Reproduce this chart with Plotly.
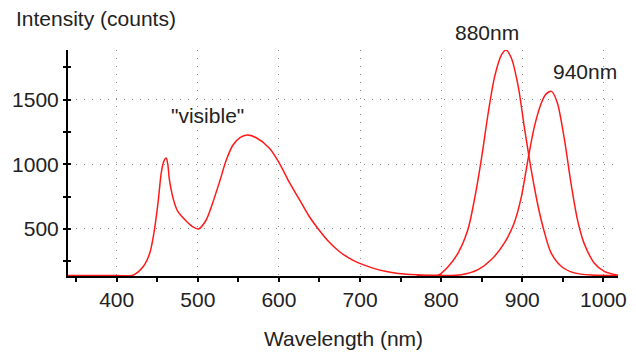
import plotly.graph_objects as go

# Visible (white LED) spectrum
vis_wl = [340, 400, 420, 433, 441, 446, 451, 455, 458, 461, 463, 465, 470, 475, 486, 494, 501,
          510, 518, 527, 535, 543, 552, 561, 572, 588, 600, 612, 625, 637, 649, 661, 674, 686,
          698, 715, 731, 747, 770, 800]
vis_counts = [140, 140, 142, 211, 317, 471, 703, 935, 1020, 1049, 1000, 881, 726, 640, 559, 515, 500,
              565, 695, 868, 1030, 1145, 1205, 1225, 1205, 1126, 1015, 870, 730, 600, 495, 404, 327, 276,
              237, 199, 172, 155, 145, 141]

# 880 nm IR LED
ir880_wl = [770, 796, 809, 821, 833, 841, 849.5, 858, 866, 874.5, 880, 886.5, 895, 903, 911, 919.5,
            927.5, 935.5, 948, 964, 985, 1018]
ir880_counts = [140, 141, 211, 315, 495, 726, 1036, 1396, 1679, 1847, 1883, 1821, 1602, 1267, 958, 675,
                469, 315, 211, 160, 143, 140]

# 940 nm IR LED
ir940_wl = [800, 825, 845.5, 862, 878, 890, 899, 907, 915, 923.5, 929, 936, 943, 952, 960, 968, 976,
            988.6, 1001, 1018]
ir940_counts = [140, 145, 185, 263, 392, 546, 752, 1036, 1293, 1474, 1540, 1563, 1480, 1190, 855, 572, 392,
                237, 172, 142]

x_ticks = [400, 500, 600, 700, 800, 900, 1000]
y_ticks = [500, 1000, 1500]
x_range = [340, 1018]
y_range = [136, 1883]

FONT = "Arial, 'Liberation Sans', sans-serif"
TXT = "#222222"
RED = "#ff1a1a"

fig = go.Figure()
for wl, cnt in [(vis_wl, vis_counts), (ir880_wl, ir880_counts), (ir940_wl, ir940_counts)]:
    fig.add_trace(go.Scatter(x=wl, y=cnt, mode="lines",
                             line=dict(color=RED, width=1.5, shape="spline", smoothing=0.8),
                             showlegend=False, hoverinfo="skip"))
fig.add_trace(go.Scatter(x=[None], y=[None], yaxis="y2", showlegend=False))

fig.update_layout(
    width=628, height=348,
    margin=dict(l=60, r=18, t=42, b=79.5, autoexpand=False),
    paper_bgcolor="white", plot_bgcolor="white",
    font=dict(family=FONT, size=21, color=TXT),
    xaxis=dict(range=x_range, tickvals=x_ticks, ticks="outside", ticklen=4, tickwidth=1.5,
               tickcolor="black", showline=True, linecolor="black", linewidth=2,
               showgrid=True, gridcolor="#8a8a8a", gridwidth=1, griddash="1px,7px",
               zeroline=False, ticklabelstandoff=0, automargin=False,
               minor=dict(tickvals=[350, 450, 550, 650, 750, 850, 950], ticks="outside",
                          ticklen=4, tickwidth=1.5, tickcolor="black", showgrid=False),
               tickfont=dict(size=21, color=TXT)),
    yaxis=dict(range=y_range, tickvals=y_ticks, ticks="outside", ticklen=3, tickwidth=1.5,
               tickcolor="black", showline=True, linecolor="black", linewidth=2,
               showgrid=True, gridcolor="#8a8a8a", gridwidth=1, griddash="1px,7px",
               zeroline=False, ticklabelstandoff=0, automargin=False,
               minor=dict(tickvals=[250, 750, 1250, 1750], ticks="outside",
                          ticklen=3, tickwidth=1.5, tickcolor="black", showgrid=False),
               tickfont=dict(size=21, color=TXT)),
    yaxis2=dict(range=y_range, overlaying="y", side="left", tickvals=y_ticks, ticks="inside",
                ticklen=3, tickwidth=1.5, tickcolor="black", showticklabels=False,
                showgrid=False, zeroline=False, showline=False, automargin=False,
                minor=dict(tickvals=[250, 750, 1250, 1750], ticks="inside", ticklen=3,
                           tickwidth=1.5, tickcolor="black", showgrid=False)),
)

fig.add_annotation(text="Intensity (counts)", xref="paper", yref="paper",
                   x=-0.0982, y=1.14, xanchor="left", yanchor="middle", showarrow=False,
                   font=dict(size=21, color=TXT))
fig.add_annotation(text="Wavelength (nm)", xref="paper", yref="paper",
                   x=0.5, y=-0.276, xanchor="center", yanchor="middle", showarrow=False,
                   font=dict(size=21, color=TXT))
fig.add_annotation(text='"visible"', x=512, y=1374, xanchor="center", yanchor="middle",
                   showarrow=False, font=dict(size=21, color=TXT))
fig.add_annotation(text="880nm", x=856.6, xref="x", y=1.077, yref="paper",
                   xanchor="center", yanchor="middle",
                   showarrow=False, font=dict(size=21, color=TXT))
fig.add_annotation(text="940nm", x=977.4, y=1717, xanchor="center", yanchor="middle",
                   showarrow=False, font=dict(size=21, color=TXT))

fig.write_html("out.html")
